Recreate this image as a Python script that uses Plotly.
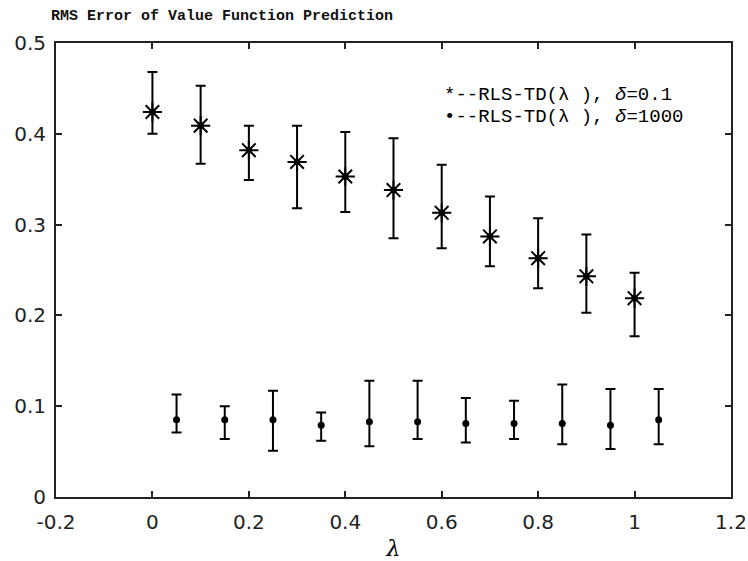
import plotly.graph_objects as go

# Series 1: RLS-TD(lambda), delta = 0.1
x1 = [0.0, 0.1, 0.2, 0.3, 0.4, 0.5, 0.6, 0.7, 0.8, 0.9, 1.0]
y1 = [0.424, 0.409, 0.382, 0.369, 0.353, 0.338, 0.313, 0.287, 0.263, 0.243, 0.219]
y1_hi = [0.468, 0.453, 0.409, 0.409, 0.402, 0.395, 0.366, 0.331, 0.307, 0.289, 0.247]
y1_lo = [0.400, 0.367, 0.349, 0.318, 0.314, 0.285, 0.274, 0.254, 0.230, 0.203, 0.177]

# Series 2: RLS-TD(lambda), delta = 1000
x2 = [0.05, 0.15, 0.25, 0.35, 0.45, 0.55, 0.65, 0.75, 0.85, 0.95, 1.05]
y2 = [0.085, 0.085, 0.085, 0.079, 0.083, 0.083, 0.081, 0.081, 0.081, 0.079, 0.085]
y2_hi = [0.113, 0.100, 0.117, 0.093, 0.128, 0.128, 0.109, 0.106, 0.124, 0.119, 0.119]
y2_lo = [0.071, 0.064, 0.051, 0.062, 0.056, 0.064, 0.060, 0.064, 0.058, 0.053, 0.058]

x_ticks = [-0.2, 0, 0.2, 0.4, 0.6, 0.8, 1.0, 1.2]
x_tick_text = ["-0.2", "0", "0.2", "0.4", "0.6", "0.8", "1", "1.2"]
y_ticks = [0, 0.1, 0.2, 0.3, 0.4, 0.5]
y_tick_text = ["0", "0.1", "0.2", "0.3", "0.4", "0.5"]

title_text = "RMS Error of Value Function Prediction"
legend_1 = "*--RLS-TD(λ ), <i>δ</i>=0.1"
legend_2 = "•--RLS-TD(λ ), <i>δ</i>=1000"

def err(y, hi, lo):
    return [h - v for v, h in zip(y, hi)], [v - l for v, l in zip(y, lo)]

p1, m1 = err(y1, y1_hi, y1_lo)
p2, m2 = err(y2, y2_hi, y2_lo)

fig = go.Figure()
fig.add_trace(go.Scatter(
    x=x1, y=y1, mode="markers",
    marker=dict(symbol="asterisk-open", size=16, color="black",
                line=dict(color="black", width=2)),
    error_y=dict(type="data", symmetric=False, array=p1, arrayminus=m1,
                 color="black", thickness=2, width=5),
    showlegend=False))
fig.add_trace(go.Scatter(
    x=x1, y=y1, mode="markers",
    marker=dict(symbol="square", size=6, color="black"),
    showlegend=False, hoverinfo="skip"))
fig.add_trace(go.Scatter(
    x=x2, y=y2, mode="markers",
    marker=dict(symbol="circle", size=7, color="black"),
    error_y=dict(type="data", symmetric=False, array=p2, arrayminus=m2,
                 color="black", thickness=2, width=5),
    showlegend=False))

font_mono = "Liberation Mono, DejaVu Sans Mono, monospace"

fig.update_layout(
    width=748, height=561,
    margin=dict(l=56, r=17, t=43, b=64),
    paper_bgcolor="white", plot_bgcolor="white",
    font=dict(family="DejaVu Sans, sans-serif", size=20, color="#222"),
    annotations=[
        dict(x=0.246, y=1, xref="paper", yref="paper", yshift=16,
             xanchor="center", yanchor="bottom", text="<b>" + title_text + "</b>", showarrow=False,
             font=dict(family=font_mono, size=15, color="#111")),
        dict(x=0.6, y=0.443, xref="x", yref="y", xanchor="left", yanchor="middle",
             text=legend_1, showarrow=False,
             font=dict(family=font_mono, size=19, color="black")),
        dict(x=0.6, y=0.418, xref="x", yref="y", xanchor="left", yanchor="middle",
             text=legend_2, showarrow=False,
             font=dict(family=font_mono, size=19, color="black")),
    ],
    xaxis=dict(range=[-0.2, 1.2], tickvals=x_ticks, ticktext=x_tick_text,
               ticks="inside", ticklen=6, tickwidth=2, tickcolor="#222",
               ticklabelstandoff=6, automargin=False,
               showline=True, linecolor="#222", linewidth=2, mirror="ticks",
               showgrid=False, zeroline=False,
               title=dict(text="<i>λ</i>", font=dict(family="DejaVu Serif, serif", size=22, color="black"),
                          standoff=8)),
    yaxis=dict(range=[0, 0.5], tickvals=y_ticks, ticktext=y_tick_text,
               ticks="inside", ticklen=6, tickwidth=2, tickcolor="#222",
               ticklabelstandoff=4, automargin=False,
               showline=True, linecolor="#222", linewidth=2, mirror="ticks",
               showgrid=False, zeroline=False),
)

fig.write_html("out.html")
